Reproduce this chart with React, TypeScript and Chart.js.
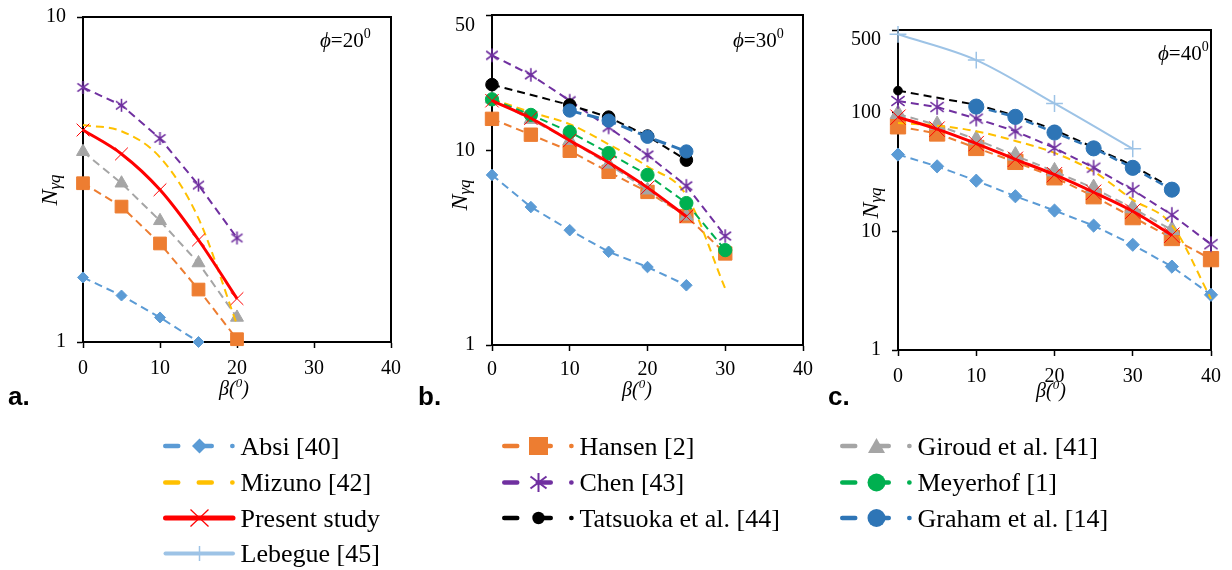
import React, { useEffect, useRef } from "react";
import { Chart, registerables } from "chart.js";

Chart.register(...registerables);

const SERIF = '"Liberation Serif", "Times New Roman", serif';
const SANS = '"Liberation Sans", Arial, sans-serif';

/* ---------- β positions (degrees) ---------- */
const betaA = [0, 5, 10, 15, 20];
const betaAbsiA = [0, 5, 10, 15];
const betaB = [0, 5, 10, 15, 20, 25, 30];
const betaB25 = [0, 5, 10, 15, 20, 25];
const betaTatsuokaB = [0, 10, 15, 20, 25];
const betaGrahamB = [10, 15, 20, 25];
const betaC = [0, 5, 10, 15, 20, 25, 30, 35, 40];
const betaC35 = [0, 5, 10, 15, 20, 25, 30, 35];
const betaTatsuokaC = [0, 10, 15, 20, 25, 30, 35];
const betaGrahamC = [10, 15, 20, 25, 30, 35];
const betaLebegueC = [0, 10, 20, 30];

/* ---------- axis ticks ---------- */
const betaTicks = [0, 10, 20, 30, 40];
const nTicksA = [1, 10];
const nTicksB = [1, 10, 50];
const nTicksC = [1, 10, 100, 500];

/* ---------- Nγq for φ = 20° ---------- */
const absiA = [1.58, 1.39, 1.19, 1.0];
const hansenA = [3.08, 2.61, 2.01, 1.45, 1.02];
const giroudA = [3.85, 3.08, 2.36, 1.75, 1.19];
const mizunoA = [4.65, 4.45, 3.7, 2.4, 1.13];
const chenA = [6.07, 5.35, 4.23, 3.04, 2.09];
const presentA = [4.49, 3.79, 2.94, 2.06, 1.36];

/* ---------- Nγq for φ = 30° ---------- */
const absiB = [7.51, 5.13, 3.9, 3.02, 2.52, 2.03];
const hansenB = [14.6, 12.1, 10.0, 7.79, 6.14, 4.61, 2.96];
const giroudB = [18.5, 14.5, 11.3, 8.53, 6.28, 4.61];
const mizunoB = [18.5, 15.8, 13.7, 10.8, 8.3, 5.9, 1.95];
const chenB = [31.0, 24.6, 18.1, 13.2, 9.5, 6.6, 3.64];
const meyerhofB = [18.4, 15.3, 12.5, 9.73, 7.51, 5.38, 3.08];
const presentB = [18.1, 14.7, 11.3, 8.7, 6.46, 4.59];
const tatsuokaB = [21.9, 17.2, 14.9, 11.9, 8.95];
const grahamB = [16.1, 14.3, 11.8, 9.92];

/* ---------- Nγq for φ = 40° ---------- */
const absiC = [44.5, 35.4, 26.8, 19.8, 15.0, 11.2, 7.72, 5.05, 2.92];
const hansenC = [77, 67, 50.6, 38.6, 28.6, 19.8, 13.2, 8.8, 5.84];
const giroudC = [98, 79, 59.5, 43.6, 32.1, 23.2, 15.7, 10.3];
const mizunoC = [82, 78, 70, 58, 46, 32, 18.5, 11.3, 2.7];
const chenC = [126, 112, 89.5, 70, 50.6, 34.5, 22.4, 13.8, 7.8];
const presentC = [92, 73, 55.1, 40.6, 30.1, 21.4, 14.8, 9.3];
const tatsuokaC = [154, 117, 95, 72, 51, 36, 23.2];
const grahamC = [113, 92.6, 68.3, 50.2, 34.4, 22.5];
const lebegueC = [460, 279, 120, 49.7];

/* ---------- series appearance ---------- */
type Marker = "rectRot" | "rect" | "triangle" | "circle" | "crossRot" | "cross" | "asterisk" | "none";
interface SeriesStyle {
  label: string;
  color: string;
  width: number;
  dash: number[];
  marker: Marker;
  size: number;
  smooth?: boolean;
  markerLine?: number;
}

const STYLES: Record<string, SeriesStyle> = {
  absi: { label: "Absi [40]", color: "#5B9BD5", width: 2, dash: [8, 5], marker: "rectRot", size: 5.5 },
  hansen: { label: "Hansen [2]", color: "#ED7D31", width: 2, dash: [8, 5], marker: "rect", size: 9 },
  giroud: { label: "Giroud et al. [41]", color: "#A5A5A5", width: 2, dash: [8, 5], marker: "triangle", size: 7.5 },
  mizuno: { label: "Mizuno [42]", color: "#FFC000", width: 2, dash: [8, 5], marker: "none", size: 0, smooth: true },
  chen: { label: "Chen [43]", color: "#7030A0", width: 2, dash: [8, 5], marker: "asterisk", size: 13 },
  meyerhof: { label: "Meyerhof [1]", color: "#00B050", width: 2, dash: [8, 5], marker: "circle", size: 6.3 },
  present: { label: "Present study", color: "#FF0000", width: 3, dash: [], marker: "crossRot", size: 9, smooth: true, markerLine: 1 },
  tatsuoka: { label: "Tatsuoka et al. [44]", color: "#000000", width: 2, dash: [8, 5], marker: "circle", size: 6 },
  graham: { label: "Graham et al. [14]", color: "#2E75B6", width: 3, dash: [12, 6], marker: "circle", size: 6.3 },
  lebegue: { label: "Lebegue [45]", color: "#9DC3E6", width: 2, dash: [], marker: "cross", size: 7, smooth: true, markerLine: 1.5 },
};

interface SeriesDef {
  key: string;
  beta: number[];
  values: number[];
  size?: number;
  width?: number;
  dash?: number[];
}

interface PanelDef {
  id: string;
  left: number;
  width: number;
  area: { left: number; top: number; right: number; bottom: number };
  yMax: number;
  yTicks: number[];
  topLabelShift: number;
  xPad: number;
  letter: string;
  phi: string;
  phiPos: [number, number];
  yTitle: [number, number];
  xTitle: [number, number];
  markerScale: number;
  series: SeriesDef[];
}

const PANELS: PanelDef[] = [
  {
    id: "a",
    left: 0,
    width: 410,
    area: { left: 83, top: 17, right: 393, bottom: 342 },
    yMax: 10,
    yTicks: nTicksA,
    topLabelShift: 0,
    xPad: 9,
    letter: "a.",
    phi: "20",
    phiPos: [320, 47],
    yTitle: [49, 190],
    xTitle: [234, 395],
    markerScale: 1,
    series: [
      { key: "absi", beta: betaAbsiA, values: absiA },
      { key: "hansen", beta: betaA, values: hansenA },
      { key: "giroud", beta: betaA, values: giroudA },
      { key: "mizuno", beta: betaA, values: mizunoA },
      { key: "chen", beta: betaA, values: chenA },
      { key: "present", beta: betaA, values: presentA },
    ],
  },
  {
    id: "b",
    left: 410,
    width: 410,
    area: { left: 82, top: 15, right: 394, bottom: 345 },
    yMax: 50,
    yTicks: nTicksB,
    topLabelShift: 11,
    xPad: 7,
    letter: "b.",
    phi: "30",
    phiPos: [323, 47],
    yTitle: [49, 195],
    xTitle: [227, 396],
    markerScale: 1.05,
    series: [
      { key: "absi", beta: betaB25, values: absiB },
      { key: "hansen", beta: betaB, values: hansenB },
      { key: "giroud", beta: betaB25, values: giroudB },
      { key: "mizuno", beta: betaB, values: mizunoB },
      { key: "chen", beta: betaB, values: chenB },
      { key: "meyerhof", beta: betaB, values: meyerhofB },
      { key: "present", beta: betaB25, values: presentB },
      { key: "tatsuoka", beta: betaTatsuokaB, values: tatsuokaB },
      { key: "graham", beta: betaGrahamB, values: grahamB },
    ],
  },
  {
    id: "c",
    left: 820,
    width: 412,
    area: { left: 78, top: 30, right: 391, bottom: 350 },
    yMax: 500,
    yTicks: nTicksC,
    topLabelShift: 10,
    xPad: 9,
    letter: "c.",
    phi: "40",
    phiPos: [338, 60],
    yTitle: [50, 203],
    xTitle: [231, 397],
    markerScale: 1.2,
    series: [
      { key: "absi", beta: betaC, values: absiC },
      { key: "hansen", beta: betaC, values: hansenC },
      { key: "giroud", beta: betaC35, values: giroudC },
      { key: "mizuno", beta: betaC, values: mizunoC },
      { key: "chen", beta: betaC, values: chenC },
      { key: "present", beta: betaC35, values: presentC },
      { key: "tatsuoka", beta: betaTatsuokaC, values: tatsuokaC, size: 3.6 },
      { key: "graham", beta: betaGrahamC, values: grahamC, width: 2.5, dash: [8, 5] },
      { key: "lebegue", beta: betaLebegueC, values: lebegueC },
    ],
  },
];

/* Excel-style star marker: a vertical bar crossed by an X */
function asteriskCanvas(size: number, color: string, lw: number): HTMLCanvasElement {
  const c = document.createElement("canvas");
  const s = Math.ceil(size + 2);
  c.width = s;
  c.height = s;
  const g = c.getContext("2d")!;
  const m = s / 2;
  const r = size / 2;
  g.strokeStyle = color;
  g.lineWidth = lw;
  g.beginPath();
  g.moveTo(m, m - r);
  g.lineTo(m, m + r);
  const dx = r * 0.85;
  const dy = r * 0.62;
  g.moveTo(m - dx, m - dy);
  g.lineTo(m + dx, m + dy);
  g.moveTo(m - dx, m + dy);
  g.lineTo(m + dx, m - dy);
  g.stroke();
  return c;
}

function buildDataset(s: SeriesDef, index: number, scale: number) {
  const st = STYLES[s.key];
  const radius = (s.size ?? st.size) * scale;
  let pointStyle: any = st.marker;
  let pointRadius = radius;
  if (st.marker === "asterisk") {
    pointStyle = asteriskCanvas(st.size * scale, st.color, 1.6);
    pointRadius = 7;
  }
  if (st.marker === "none") {
    pointStyle = "circle";
    pointRadius = 0;
  }
  return {
    label: st.label,
    data: s.beta.map((b, i) => ({ x: b, y: s.values[i] })),
    borderColor: st.color,
    backgroundColor: st.color,
    borderWidth: s.width ?? st.width,
    borderDash: s.dash ?? st.dash,
    pointStyle,
    pointRadius,
    pointBackgroundColor: st.color,
    pointBorderColor: st.color,
    pointBorderWidth: st.markerLine ?? 1,
    cubicInterpolationMode: st.smooth ? "monotone" : "default",
    tension: 0,
    fill: false,
    clip: false,
    order: -index,
  };
}

function decorations(p: PanelDef) {
  return {
    id: "decor" + p.id,
    beforeDatasetsDraw(chart: any) {
      const { ctx, chartArea: a } = chart;
      ctx.save();
      ctx.strokeStyle = "#000";
      ctx.lineWidth = 2;
      ctx.beginPath();
      ctx.moveTo(a.left, a.top);
      ctx.lineTo(a.right, a.top);
      ctx.lineTo(a.right, a.bottom);
      ctx.stroke();
      ctx.restore();
    },
    afterDraw(chart: any) {
      const { ctx, chartArea: a } = chart;
      const y = chart.scales.y;
      ctx.save();
      ctx.fillStyle = "#000";

      // value axis labels
      ctx.font = `20px ${SERIF}`;
      ctx.textAlign = "right";
      ctx.textBaseline = "middle";
      for (const v of p.yTicks) {
        const py = y.getPixelForValue(v) + (v === p.yMax ? p.topLabelShift : 0);
        ctx.fillText(String(v), a.left - 17, py);
      }

      ctx.textAlign = "left";
      ctx.textBaseline = "alphabetic";

      // Nγq (rotated)
      ctx.save();
      ctx.translate(p.yTitle[0], p.yTitle[1]);
      ctx.rotate(-Math.PI / 2);
      const fN = `italic 24px ${SERIF}`;
      const fS = `italic 17px ${SERIF}`;
      ctx.font = fN;
      const wN = ctx.measureText("N").width;
      ctx.font = fS;
      const wS = ctx.measureText("γq").width;
      let x0 = -(wN + wS) / 2;
      ctx.font = fN;
      ctx.fillText("N", x0, 8);
      ctx.font = fS;
      ctx.fillText("γq", x0 + wN, 11);
      ctx.restore();

      // β(0)
      {
        const fMain = `italic 20px ${SERIF}`;
        const fSup = `italic 13px ${SERIF}`;
        ctx.font = fMain;
        const w1 = ctx.measureText("β(").width;
        const w3 = ctx.measureText(")").width;
        ctx.font = fSup;
        const w2 = ctx.measureText("0").width;
        let x = p.xTitle[0] - (w1 + w2 + w3) / 2;
        const by = p.xTitle[1];
        ctx.font = fMain;
        ctx.fillText("β(", x, by);
        x += w1;
        ctx.font = fSup;
        ctx.fillText("0", x, by - 8);
        x += w2;
        ctx.font = fMain;
        ctx.fillText(")", x, by);
      }

      // ϕ annotation
      {
        let x = p.phiPos[0];
        const by = p.phiPos[1];
        ctx.font = `italic 21px ${SERIF}`;
        ctx.fillText("ϕ", x, by);
        x += ctx.measureText("ϕ").width;
        ctx.font = `21px ${SERIF}`;
        const t = "=" + p.phi;
        ctx.fillText(t, x, by);
        x += ctx.measureText(t).width;
        ctx.font = `14px ${SERIF}`;
        ctx.fillText("0", x, by - 9);
      }

      // panel letter
      ctx.font = `bold 26px ${SANS}`;
      ctx.fillText(p.letter, 8, 405);
      ctx.restore();
    },
  };
}

function PanelChart({ p }: { p: PanelDef }) {
  const ref = useRef<HTMLCanvasElement>(null);
  useEffect(() => {
    const canvas = ref.current;
    if (!canvas) return;
    const axisGrid = {
      display: true,
      drawOnChartArea: false,
      drawTicks: true,
      tickLength: 6,
      tickColor: "#000",
      tickWidth: 1.5,
    };
    const axisBorder = { display: true, color: "#000", width: 2 };
    const chart = new Chart(canvas, {
      type: "line",
      data: { datasets: p.series.map((s, i) => buildDataset(s, i, p.markerScale)) as any },
      options: {
        animation: false,
        responsive: false,
        maintainAspectRatio: false,
        events: [],
        layout: {
          padding: { left: 0, bottom: 0, top: p.area.top, right: p.width - p.area.right },
        },
        plugins: {
          legend: { display: false },
          tooltip: { enabled: false },
          title: { display: false },
        },
        scales: {
          x: {
            type: "linear",
            min: 0,
            max: 40,
            afterBuildTicks: (s: any) => {
              s.ticks = betaTicks.map((v) => ({ value: v }));
            },
            ticks: {
              font: { family: SERIF, size: 20 },
              color: "#000",
              padding: p.xPad,
              maxRotation: 0,
              autoSkip: false,
            },
            grid: axisGrid,
            border: axisBorder,
            afterFit: (s: any) => {
              s.height = 420 - p.area.bottom;
            },
          },
          y: {
            type: "logarithmic",
            min: 1,
            max: p.yMax,
            afterBuildTicks: (s: any) => {
              s.ticks = p.yTicks.map((v) => ({ value: v }));
            },
            ticks: { display: false },
            grid: axisGrid,
            border: axisBorder,
            afterFit: (s: any) => {
              s.width = p.area.left;
            },
          },
        },
      } as any,
      plugins: [decorations(p)],
    });
    return () => chart.destroy();
  }, [p]);
  return (
    <canvas
      ref={ref}
      width={p.width}
      height={420}
      style={{ position: "absolute", left: p.left, top: 0, width: p.width, height: 420 }}
    />
  );
}

/* ---------- legend ---------- */
const LEGEND_X = [163, 502, 840];
const LEGEND_Y = [446, 482.5, 518, 553.5];
const LEGEND_COLUMNS: string[][] = [
  ["absi", "mizuno", "present", "lebegue"],
  ["hansen", "chen", "tatsuoka"],
  ["giroud", "meyerhof", "graham"],
];

function LegendMarker({ k, x, y }: { k: string; x: number; y: number }) {
  const st = STYLES[k];
  const c = st.color;
  switch (k) {
    case "absi":
      return <polygon points={`${x - 7.5},${y} ${x},${y - 7.5} ${x + 7.5},${y} ${x},${y + 7.5}`} fill={c} />;
    case "hansen":
      return <rect x={x - 9.5} y={y - 9} width={19} height={18} fill={c} />;
    case "giroud":
      return <polygon points={`${x},${y - 8} ${x + 8.5},${y + 7} ${x - 8.5},${y + 7}`} fill={c} />;
    case "chen":
      return (
        <g stroke={c} strokeWidth={2}>
          <line x1={x} y1={y - 9.5} x2={x} y2={y + 9.5} />
          <line x1={x - 8} y1={y - 6} x2={x + 8} y2={y + 6} />
          <line x1={x - 8} y1={y + 6} x2={x + 8} y2={y - 6} />
        </g>
      );
    case "meyerhof":
    case "graham":
      return <circle cx={x} cy={y} r={9} fill={c} />;
    case "tatsuoka":
      return <circle cx={x} cy={y} r={6.2} fill={c} />;
    case "present":
      return (
        <g stroke={c} strokeWidth={1.2}>
          <line x1={x - 9} y1={y - 8.5} x2={x + 9} y2={y + 8.5} />
          <line x1={x - 9} y1={y + 8.5} x2={x + 9} y2={y - 8.5} />
        </g>
      );
    case "lebegue":
      return <line x1={x} y1={y - 7.5} x2={x} y2={y + 7.5} stroke={c} strokeWidth={1.5} />;
    default:
      return null;
  }
}

function Legend() {
  const items: React.ReactNode[] = [];
  LEGEND_COLUMNS.forEach((col, ci) => {
    col.forEach((k, ri) => {
      const st = STYLES[k];
      const x0 = LEGEND_X[ci];
      const y = LEGEND_Y[ri];
      const solid = st.dash.length === 0;
      items.push(
        <g key={k}>
          {solid ? (
            <line
              x1={x0 + 2.5}
              x2={x0 + 70}
              y1={y}
              y2={y}
              stroke={st.color}
              strokeWidth={k === "present" ? 5 : 4}
              strokeLinecap="round"
            />
          ) : (
            <line
              x1={x0 + 2.25}
              x2={x0 + 69.5}
              y1={y}
              y2={y}
              stroke={st.color}
              strokeWidth={4.5}
              strokeDasharray="13 20.5"
              strokeLinecap="round"
            />
          )}
          <LegendMarker k={k} x={x0 + 36.5} y={y} />
          <text x={x0 + 77.5} y={y + 8.5} fontFamily={SERIF} fontSize={26} fill="#000">
            {st.label}
          </text>
        </g>
      );
    });
  });
  return (
    <svg
      width={1232}
      height={570}
      style={{ position: "absolute", left: 0, top: 0, pointerEvents: "none" }}
    >
      {items}
    </svg>
  );
}

export default function App() {
  return (
    <div
      style={{
        position: "absolute",
        left: 0,
        top: 0,
        width: 1232,
        height: 570,
        background: "#fff",
        overflow: "hidden",
      }}
    >
      {PANELS.map((p) => (
        <PanelChart key={p.id} p={p} />
      ))}
      <Legend />
    </div>
  );
}
